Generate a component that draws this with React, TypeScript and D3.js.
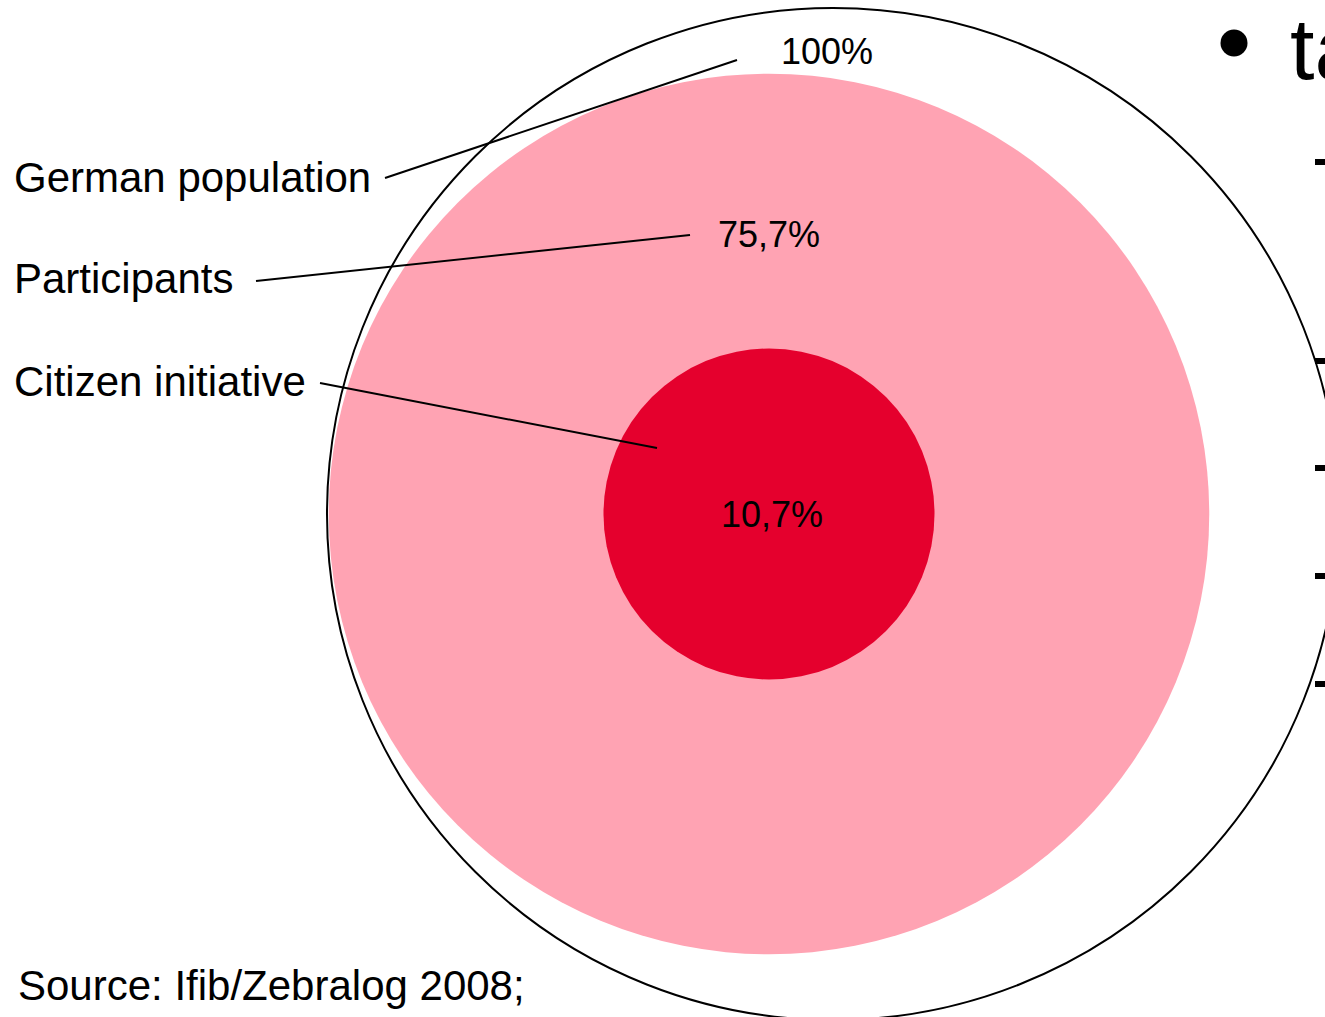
import React from "react";
import * as d3 from "d3";

// ---- data ----
const categories = ["German population", "Participants", "Citizen initiative"];
const shares = [100, 75.7, 10.7];
const valueLabels = ["100%", "75,7%", "10,7%"];
const sourceNote = "Source: Ifib/Zebralog 2008;";
const sideBulletText = "ta";

// ---- styles ----
const fills = ["none", "#FFA3B3", "#E5002D"];
const strokes = ["#000", "none", "none"];
const FONT = "Arial, 'Liberation Sans', Helvetica, sans-serif";

const W = 1325;
const H = 1017;

export default function App() {
  const rScale = d3.scaleSqrt().domain([0, 100]).range([0, 506]);
  const cy = 514;
  const outerCx = 833;
  const innerCx = 769;
  const centers = [outerCx, innerCx, innerCx];

  // label layout (text anchor points & leader ends)
  const labelPos = [
    { x: 14, y: 192, lx1: 385, ly1: 178, lx2: 737, ly2: 60 },
    { x: 14, y: 293, lx1: 256, ly1: 281, lx2: 690, ly2: 235 },
    { x: 14, y: 396, lx1: 320, ly1: 383, lx2: 657, ly2: 448 },
  ];
  const valuePos = [
    { x: 827, y: 64 },
    { x: 769, y: 247 },
    { x: 772, y: 527 },
  ];
  const dashYs = [162, 361, 468, 576, 684];

  return (
    <div style={{ position: "absolute", left: 0, top: 0 }}>
      <svg width={W} height={H} style={{ display: "block", background: "#fff" }}>
        <rect x={0} y={0} width={W} height={H} fill="#fff" />
        {/* circles: draw largest first */}
        {shares.map((v, i) => (
          <circle
            key={"c" + i}
            cx={centers[i]}
            cy={cy}
            r={rScale(v)}
            fill={fills[i]}
            stroke={strokes[i]}
            strokeWidth={2}
          />
        ))}
        {/* value labels */}
        {valueLabels.map((t, i) => (
          <text
            key={"v" + i}
            x={valuePos[i].x}
            y={valuePos[i].y}
            textAnchor="middle"
            fontFamily={FONT}
            fontSize={36}
            fill="#000"
          >
            {t}
          </text>
        ))}
        {/* leader lines */}
        {labelPos.map((p, i) => (
          <line
            key={"l" + i}
            x1={p.lx1}
            y1={p.ly1}
            x2={p.lx2}
            y2={p.ly2}
            stroke="#000"
            strokeWidth={2}
          />
        ))}
        {/* category labels */}
        {categories.map((c, i) => (
          <text
            key={"t" + i}
            x={labelPos[i].x}
            y={labelPos[i].y}
            fontFamily={FONT}
            fontSize={42}
            fill="#000"
          >
            {c}
          </text>
        ))}
        {/* source */}
        <text x={18} y={1000} fontFamily={FONT} fontSize={42} fill="#000">
          {sourceNote}
        </text>
        {/* cut-off slide text on the right */}
        <circle cx={1234} cy={43} r={13.5} fill="#000" />
        <text x={1290} y={79} fontFamily={FONT} fontSize={88} fill="#000">
          {sideBulletText}
        </text>
        {dashYs.map((y, i) => (
          <rect key={"d" + i} x={1315} y={y - 3} width={14} height={6} fill="#000" />
        ))}
      </svg>
    </div>
  );
}
